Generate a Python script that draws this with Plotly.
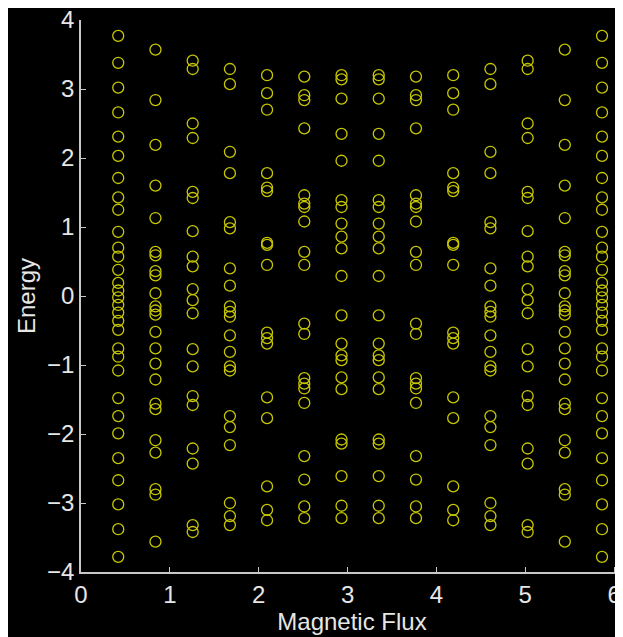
import plotly.graph_objects as go

# Magnetic flux values (x positions of the columns)
flux = [0.419, 0.838, 1.257, 1.676, 2.094, 2.513, 2.932,
        3.351, 3.770, 4.189, 4.608, 5.027, 5.445, 5.864]

# Energy levels read for each flux column
energy_01 = [3.77, 3.38, 3.02, 2.66, 2.31, 2.03, 1.71, 1.43, 1.25, 0.93, 0.70, 0.57, 0.38, 0.19, 0.08,
             -0.02, -0.13, -0.24, -0.36, -0.49, -0.76, -0.88, -1.08, -1.48, -1.74, -1.99, -2.35, -2.67, -3.02, -3.38, -3.78]
energy_02 = [3.57, 2.84, 2.19, 1.60, 1.13, 0.64, 0.59, 0.36, 0.30, 0.04, -0.15, -0.21, -0.27, -0.52,
             -0.76, -0.98, -1.21, -1.56, -1.64, -2.09, -2.27, -2.80, -2.88, -3.56]
energy_03 = [3.41, 3.29, 2.50, 2.29, 1.51, 1.42, 0.94, 0.57, 0.43, 0.10, -0.06, -0.25, -0.77, -1.02,
             -1.45, -1.58, -2.21, -2.43, -3.32, -3.42]
energy_04 = [3.29, 3.07, 2.09, 1.78, 1.07, 0.98, 0.40, 0.15, -0.15, -0.23, -0.30, -0.57, -0.81, -1.02,
             -1.08, -1.74, -1.90, -2.16, -3.00, -3.19, -3.32]
energy_05 = [3.20, 2.94, 2.70, 1.78, 1.57, 1.52, 0.77, 0.74, 0.45, -0.53, -0.61, -0.69, -1.47, -1.77,
             -2.76, -3.10, -3.25]
energy_06 = [3.18, 2.91, 2.84, 2.43, 1.46, 1.34, 1.29, 1.08, 0.64, 0.45, -0.40, -0.55, -1.19, -1.27,
             -1.34, -1.55, -2.32, -2.66, -3.05, -3.22]
energy_07 = [3.20, 3.14, 2.86, 2.35, 1.96, 1.39, 1.29, 1.05, 0.86, 0.69, 0.29, -0.28, -0.69, -0.86,
             -0.93, -1.18, -1.35, -2.08, -2.14, -2.61, -3.04, -3.22]
energy_08 = [3.20, 3.14, 2.86, 2.35, 1.96, 1.39, 1.29, 1.05, 0.86, 0.69, 0.29, -0.28, -0.69, -0.86,
             -0.93, -1.18, -1.35, -2.08, -2.14, -2.61, -3.04, -3.22]
energy_09 = [3.18, 2.91, 2.84, 2.43, 1.46, 1.34, 1.29, 1.08, 0.64, 0.45, -0.40, -0.55, -1.19, -1.27,
             -1.34, -1.55, -2.32, -2.66, -3.05, -3.22]
energy_10 = [3.20, 2.94, 2.70, 1.78, 1.57, 1.52, 0.77, 0.74, 0.45, -0.53, -0.61, -0.69, -1.47, -1.77,
             -2.76, -3.10, -3.25]
energy_11 = [3.29, 3.07, 2.09, 1.78, 1.07, 0.98, 0.40, 0.15, -0.15, -0.23, -0.30, -0.57, -0.81, -1.02,
             -1.08, -1.74, -1.90, -2.16, -3.00, -3.19, -3.32]
energy_12 = [3.41, 3.29, 2.50, 2.29, 1.51, 1.42, 0.94, 0.57, 0.43, 0.10, -0.06, -0.25, -0.77, -1.02,
             -1.45, -1.58, -2.21, -2.43, -3.32, -3.42]
energy_13 = [3.57, 2.84, 2.19, 1.60, 1.13, 0.64, 0.59, 0.36, 0.30, 0.04, -0.15, -0.21, -0.27, -0.52,
             -0.76, -0.98, -1.21, -1.56, -1.64, -2.09, -2.27, -2.80, -2.88, -3.56]
energy_14 = [3.77, 3.38, 3.02, 2.66, 2.31, 2.03, 1.71, 1.43, 1.25, 0.93, 0.70, 0.57, 0.38, 0.19, 0.08,
             -0.02, -0.13, -0.24, -0.36, -0.49, -0.76, -0.88, -1.08, -1.48, -1.74, -1.99, -2.35, -2.67, -3.02, -3.38, -3.78]

columns = [energy_01, energy_02, energy_03, energy_04, energy_05, energy_06, energy_07,
           energy_08, energy_09, energy_10, energy_11, energy_12, energy_13, energy_14]

x_ticks = [0, 1, 2, 3, 4, 5, 6]
y_ticks = [-4, -3, -2, -1, 0, 1, 2, 3, 4]

xs, ys = [], []
for f, col in zip(flux, columns):
    xs.extend([f] * len(col))
    ys.extend(col)

fig = go.Figure()
fig.add_trace(go.Scatter(
    x=xs, y=ys, mode="markers",
    marker=dict(symbol="circle-open", size=11, color="rgb(200,200,0)",
                line=dict(width=1.3, color="rgb(200,200,0)")),
    hoverinfo="skip", showlegend=False, cliponaxis=False))

axis_font = dict(family="Liberation Sans, Arial, sans-serif", size=24, color="#e6e6e6")
fig.update_layout(
    width=615, height=629,
    paper_bgcolor="black", plot_bgcolor="black",
    margin=dict(l=73, r=0, t=12, b=65),
    font=axis_font,
    xaxis=dict(range=[0, 6.10], tickmode="array", tickvals=x_ticks, automargin=False,
               ticklabeloverflow="allow",
               showgrid=False, zeroline=False, showline=True, linecolor="#c8c8c8", linewidth=1.5,
               ticks="inside", ticklen=5, tickcolor="#c8c8c8",
               title=dict(text="Magnetic Flux", font=axis_font, standoff=4)),
    yaxis=dict(range=[-4, 4], tickmode="array", tickvals=y_ticks, automargin=False,
               ticklabeloverflow="allow",
               showgrid=False, zeroline=False, showline=True, linecolor="#c8c8c8", linewidth=1.5,
               ticks="inside", ticklen=5, tickcolor="#c8c8c8",
               title=dict(text="Energy", font=axis_font, standoff=5)),
)

fig.write_html("out.html")
